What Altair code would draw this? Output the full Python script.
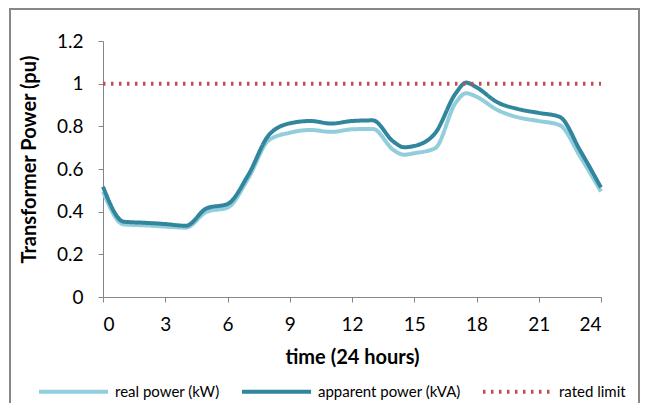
import altair as alt
import pandas as pd

hours = [0, 1, 2, 3, 4, 5, 6, 7, 8, 9, 10, 11, 12, 13, 14, 14.5, 15, 16, 17, 17.5, 18, 19, 20, 21, 22, 23, 24]
real_kw = [0.494, 0.34, 0.336, 0.33, 0.325, 0.40, 0.419, 0.556, 0.736, 0.77, 0.783, 0.774, 0.786, 0.788,
           0.689, 0.667, 0.674, 0.697, 0.911, 0.955, 0.939, 0.877, 0.842, 0.825, 0.806, 0.658, 0.494]
apparent_kva = [0.517, 0.353, 0.348, 0.342, 0.334, 0.416, 0.436, 0.572, 0.76, 0.814, 0.825, 0.813, 0.825, 0.828,
                0.728, 0.702, 0.708, 0.767, 0.955, 1.005, 0.983, 0.913, 0.881, 0.863, 0.845, 0.686, 0.513]
limit_hours = [0, 24]
limit_values = [1, 1]

series_names = ["real power (kW)", "apparent power (kVA)", "rated limit"]
series_colors = ["#92CDDC", "#31859C", "#C0504D"]

rows = []
for h, v in zip(hours, real_kw):
    rows.append({"time": h, "value": v, "series": series_names[0]})
for h, v in zip(hours, apparent_kva):
    rows.append({"time": h, "value": v, "series": series_names[1]})
for h, v in zip(limit_hours, limit_values):
    rows.append({"time": h, "value": v, "series": series_names[2]})
df = pd.DataFrame(rows)

FONT = "Lato"


def make_legend():
    return alt.Legend(title=None, orient="none", direction="horizontal",
                      legendX=-66, legendY=314, symbolType="stroke",
                      symbolSize=4761, symbolStrokeWidth=4, labelOffset=5,
                      columnPadding=14, labelFont=FONT, labelFontSize=15,
                      labelColor="#000000")


lines = alt.Chart(df).mark_line(interpolate="monotone").encode(
    x=alt.X("time:Q", scale=alt.Scale(domain=[0, 24], nice=False),
            axis=alt.Axis(values=list(range(0, 25, 3)), title="time (24 hours)",
                          titleY=66, titleBaseline="alphabetic")),
    y=alt.Y("value:Q", scale=alt.Scale(domain=[0, 1.2], nice=False),
            axis=alt.Axis(values=[0, 0.2, 0.4, 0.6, 0.8, 1, 1.2], format="~g",
                          title="Transformer Power (pu)", titleX=-64, titleY=118)),
    color=alt.Color("series:N", scale=alt.Scale(domain=series_names, range=series_colors),
                    sort=series_names, legend=make_legend()),
    strokeDash=alt.StrokeDash("series:N", scale=alt.Scale(domain=series_names,
                                                          range=[[1, 0], [1, 0], [2.5, 5.5]]),
                              sort=series_names, legend=make_legend()),
    strokeWidth=alt.StrokeWidth("series:N", scale=alt.Scale(domain=series_names, range=[4, 4, 3]),
                                legend=None),
    order=alt.Order("series:N"),
)

frame = alt.Chart(pd.DataFrame({"a": [0]})).mark_rect(
    fill=None, stroke="#878787", strokeWidth=2
).encode(
    x=alt.value(-93), x2=alt.value(536), y=alt.value(-32), y2=alt.value(380)
)

chart = alt.layer(frame, lines).properties(
    width=498, height=256,
    padding={"left": 95, "top": 33, "right": 40, "bottom": 106},
    autosize=alt.AutoSizeParams(type="none"),
).configure_view(stroke=None).configure_axis(
    grid=False, domainColor="#868686", tickColor="#868686", tickSize=5,
    labelFont=FONT, labelFontSize=19, labelColor="#000000",
    titleFont=FONT, titleFontSize=20, titleFontWeight="bold", titleColor="#000000",
).configure_axisX(labelPadding=13).configure_axisY(labelPadding=15)

chart.save("out.html", embed_options={"renderer": "svg", "actions": False})
